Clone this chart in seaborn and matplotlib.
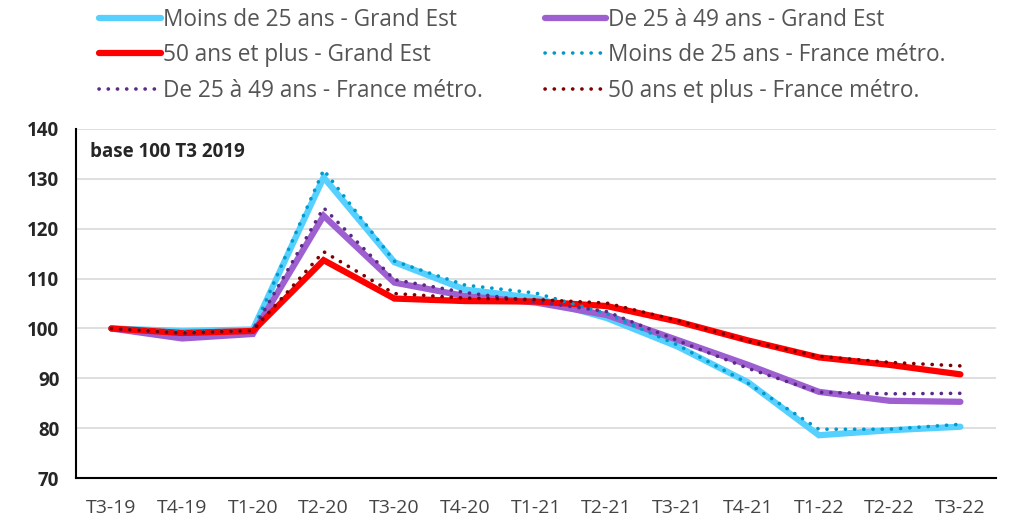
import matplotlib
matplotlib.use("Agg")
from matplotlib import pyplot as plt
from matplotlib.ticker import FixedLocator, MultipleLocator
import seaborn as sns
import pandas as pd

quarters = ["T3-19", "T4-19", "T1-20", "T2-20", "T3-20", "T4-20", "T1-21",
            "T2-21", "T3-21", "T4-21", "T1-22", "T2-22", "T3-22"]

moins25_ge = [100, 99.5, 99.8, 130.3, 113.3, 107.8, 106.1, 102.1, 96.4, 89.2, 78.6, 79.6, 80.3]
de25_49_ge = [100, 98.0, 98.9, 122.6, 109.2, 106.5, 105.2, 102.7, 97.7, 92.7, 87.3, 85.5, 85.3]
plus50_ge = [100, 99.1, 99.5, 113.7, 106.0, 105.5, 105.4, 104.5, 101.4, 97.6, 94.2, 92.7, 90.8]
moins25_fr = [100, 99.3, 99.6, 131.8, 113.5, 108.7, 107.1, 103.0, 96.7, 89.0, 79.8, 79.8, 80.8]
de25_49_fr = [100, 99.0, 99.6, 124.2, 109.8, 107.2, 105.4, 103.4, 97.6, 92.0, 87.2, 86.9, 87.0]
plus50_fr = [100, 99.1, 99.6, 115.4, 107.0, 106.1, 105.8, 105.1, 101.6, 97.5, 94.4, 93.2, 92.5]

series = [
    ("Moins de 25 ans - Grand Est", moins25_ge, "#55d0ff", "solid"),
    ("De 25 à 49 ans - Grand Est", de25_49_ge, "#9e5fd0", "solid"),
    ("50 ans et plus - Grand Est", plus50_ge, "#ff0000", "solid"),
    ("Moins de 25 ans - France métro.", moins25_fr, "#0099cc", "dotted"),
    ("De 25 à 49 ans - France métro.", de25_49_fr, "#5a2a85", "dotted"),
    ("50 ans et plus - France métro.", plus50_fr, "#7f0000", "dotted"),
]

sns.set_style("white")
plt.rcParams["font.family"] = ["Open Sans", "DejaVu Sans"]

fig = plt.figure(figsize=(10.13, 5.18), dpi=100)
ax = fig.add_axes([0.075, 0.077, 0.908, 0.674])

for name, vals, color, kind in series:
    df = pd.DataFrame({"x": range(len(quarters)), "y": vals})
    if kind == "solid":
        sns.lineplot(data=df, x="x", y="y", ax=ax, color=color, linewidth=4.5,
                     label=name, solid_capstyle="round", solid_joinstyle="miter")
    else:
        sns.lineplot(data=df, x="x", y="y", ax=ax, color=color, linewidth=2.6,
                     label=name, dashes=False, linestyle=(0, (0.05, 2.5)),
                     dash_capstyle="round")

ax.set_xlim(-0.5, len(quarters) - 0.5)
ax.set_ylim(70, 140)
ax.yaxis.set_major_locator(MultipleLocator(10))
ax.grid(axis="y", color="#d9d9d9", linewidth=1.2)
ax.set_axisbelow(True)

ax.set_xticks(range(len(quarters)))
ax.set_xticklabels(quarters, color="#444444", fontsize=14)
ax.xaxis.set_minor_locator(FixedLocator([i - 0.5 for i in range(len(quarters) + 1)]))
ax.tick_params(axis="x", which="major", length=0, pad=15)
ax.tick_params(axis="x", which="minor", length=12, direction="inout", width=1.3, color="black")
ax.tick_params(axis="y", length=12, direction="inout", width=1.3, color="black", labelsize=13.5, pad=6)
for lab in ax.get_yticklabels():
    lab.set_fontweight("bold")

for side in ["top", "right"]:
    ax.spines[side].set_visible(False)
for side in ["left", "bottom"]:
    ax.spines[side].set_color("black")
    ax.spines[side].set_linewidth(1.5)

ax.set_xlabel("")
ax.set_ylabel("")
ax.text(0.015, 0.935, "base 100 T3 2019", transform=ax.transAxes,
        fontsize=13.5, fontweight="bold", va="center")

handles, labels = ax.get_legend_handles_labels()
ax.get_legend().remove()
# legend fills row by row in the reference, matplotlib fills column by column
order = [0, 2, 4, 1, 3, 5]
fig.legend([handles[i] for i in order], [labels[i] for i in order],
           loc="upper left", bbox_to_anchor=(0.078, 1.024), ncol=2, frameon=False,
           fontsize=16.3, handlelength=2.7, handletextpad=0.1, columnspacing=2.75,
           labelspacing=0.5, labelcolor="#555555")

plt.savefig("out.png", dpi=100)
